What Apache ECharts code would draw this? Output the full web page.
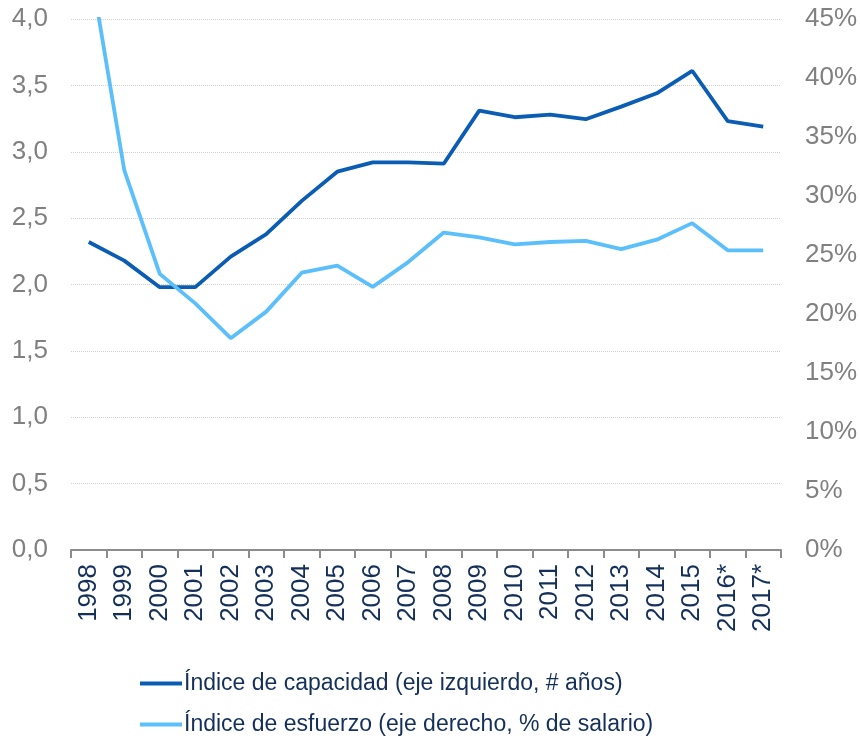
<!DOCTYPE html>
<html>
<head>
<meta charset="utf-8">
<script src="https://cdn.jsdelivr.net/npm/echarts@6/dist/echarts.min.js"></script>
<style>
html,body{margin:0;padding:0;background:#fff;}
#chart{width:860px;height:738px;}
</style>
</head>
<body>
<div id="chart"></div>
<script>
const categories = ['1998','1999','2000','2001','2002','2003','2004','2005','2006','2007','2008','2009','2010','2011','2012','2013','2014','2015','2016*','2017*'];
const capacidad = [2.32,2.18,1.98,1.98,2.21,2.38,2.63,2.85,2.92,2.92,2.91,3.31,3.26,3.28,3.245,3.34,3.44,3.61,3.23,3.19];
const esfuerzo = [50.2,32.2,23.4,20.9,17.95,20.2,23.5,24.1,22.3,24.4,26.9,26.5,25.9,26.1,26.2,25.5,26.3,27.7,25.4,25.4];
const leftTicks = {min:0, max:4, interval:0.5};
const rightTicks = {min:0, max:45, interval:5};
const names = ['Índice de capacidad (eje izquierdo, # años)','Índice de esfuerzo (eje derecho, % de salario)'];

const FONT = 'Liberation Sans, Arial, sans-serif';
const legendBase = {
  left:135, itemWidth:42, itemHeight:4, icon:'rect',
  textStyle:{fontFamily:FONT, fontSize:23, color:'#14305a', padding:[0,0,0,-3]}
};
const chart = echarts.init(document.getElementById('chart'), null, {renderer:'canvas'});
chart.setOption({
  animation:false,
  backgroundColor:'#ffffff',
  textStyle:{fontFamily:FONT},
  grid:{left:71, right:79, top:19, bottom:188, containLabel:false},
  legend:[
    Object.assign({}, legendBase, {top:667, data:[names[0]]}),
    Object.assign({}, legendBase, {top:708, data:[names[1]]})
  ],
  xAxis:{
    type:'category', data:categories, boundaryGap:true,
    axisLine:{lineStyle:{color:'#8c8c8c', width:2}},
    axisTick:{show:true, interval:0, length:8, lineStyle:{color:'#8c8c8c', width:2}},
    axisLabel:{interval:0, rotate:90, fontSize:26, color:'#14305a', margin:14, fontFamily:FONT},
    splitLine:{show:false}
  },
  yAxis:[{
    type:'value', min:leftTicks.min, max:leftTicks.max, interval:leftTicks.interval,
    axisLine:{show:false}, axisTick:{show:false},
    axisLabel:{fontSize:26, color:'#808080', margin:23, fontFamily:FONT,
      formatter:v=>v.toFixed(1).replace('.',',')},
    splitLine:{show:true, lineStyle:{color:'#d0d0d0', type:'dotted', width:1}}
  },{
    type:'value', min:rightTicks.min, max:rightTicks.max, interval:rightTicks.interval,
    axisLine:{show:false}, axisTick:{show:false},
    axisLabel:{fontSize:26, color:'#808080', margin:24, fontFamily:FONT, formatter:v=>v+'%'},
    splitLine:{show:false}
  }],
  series:[{
    name:names[0], type:'line', yAxisIndex:0, data:capacidad,
    symbol:'none', lineStyle:{color:'#0b5db3', width:3.8}, itemStyle:{color:'#0b5db3'}, clip:true
  },{
    name:names[1], type:'line', yAxisIndex:1, data:esfuerzo,
    symbol:'none', lineStyle:{color:'#5bbffb', width:3.8}, itemStyle:{color:'#5bbffb'}, clip:true
  }]
});
</script>
</body>
</html>
